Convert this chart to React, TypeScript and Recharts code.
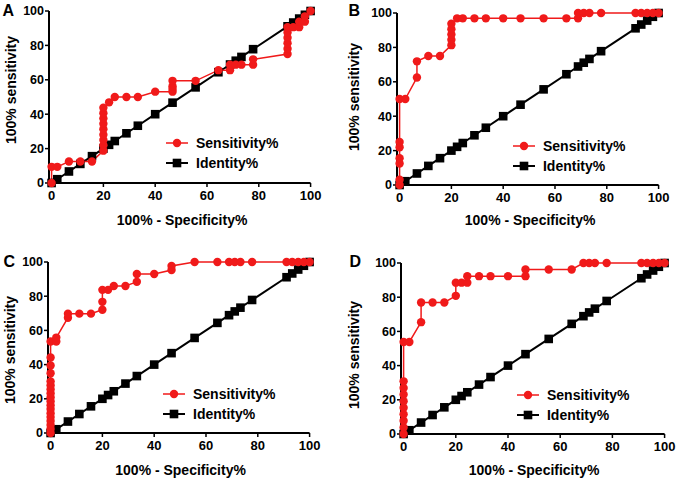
import React from 'react';
import { LineChart, Line, XAxis, YAxis, Legend } from 'recharts';

const FONT = "Arial, 'Liberation Sans', Helvetica, sans-serif";
const RED = '#f01a1a';
const BLACK = '#000000';

const xTicks = [0, 20, 40, 60, 80, 100];
const yTicks = [0, 20, 40, 60, 80, 100];

// 100% - specificity values shared by all panels (identity line: y = x at each)
const identityPct = [0, 2.2, 6.7, 11.1, 15.6, 20, 22.2, 24.4, 28.9, 33.3, 40, 46.7, 55.6, 64.4, 68.9, 71.1, 73.3, 77.8, 91.1, 93.3, 95.6, 97.8, 100];

// [100% - specificity, sensitivity]
const rocA: [number, number][] = [
  [0, 0], [0, 9.4], [2.2, 9.4], [6.7, 12.5], [11.1, 12.5], [15.6, 12.5],
  [20, 18.8], [20, 21.9], [20, 25], [20, 28.1], [20, 31.3], [20, 34.4], [20, 37.5], [20, 40.6], [20, 43.8],
  [22.2, 46.9], [24.4, 50], [28.9, 50], [33.3, 50], [40, 53.1], [46.7, 53.1], [46.7, 54.7], [46.7, 56.3], [46.7, 59.4],
  [55.6, 59.4], [64.4, 65.6], [68.9, 65.6], [68.9, 68.8], [71.1, 68.8], [73.3, 68.8], [77.8, 68.8], [77.8, 71.9],
  [91.1, 75], [91.1, 78.1], [91.1, 81.3], [91.1, 84.4], [91.1, 87.5], [91.1, 90.6], [93.3, 90.6], [95.6, 90.6],
  [95.6, 93.8], [97.8, 93.8], [97.8, 96.9], [100, 100],
];

const rocB: [number, number][] = [
  [0, 0], [0, 3.1], [0, 12.5], [0, 15.6], [0, 21.9], [0, 25], [0, 50], [2.2, 50], [6.7, 62.5], [6.7, 71.9],
  [11.1, 75], [15.6, 75], [20, 81.3], [20, 84.4], [20, 87.5], [20, 90.6], [20, 93.8], [22.2, 96.9], [24.4, 96.9],
  [28.9, 96.9], [33.3, 96.9], [40, 96.9], [46.7, 96.9], [55.6, 96.9], [64.4, 96.9], [68.9, 96.9], [68.9, 100],
  [71.1, 100], [73.3, 100], [77.8, 100], [91.1, 100], [93.3, 100], [95.6, 100], [97.8, 100], [100, 100],
];

const rocC: [number, number][] = [
  [0, 0], [0, 2.3], [0, 4.7], [0, 7.0], [0, 9.3], [0, 11.6], [0, 14.0], [0, 16.3], [0, 18.6], [0, 20.9], [0, 23.3],
  [0, 25.6], [0, 27.9], [0, 30.2], [0, 34.9], [0, 39.5], [0, 44.2], [0, 53.5], [2.2, 53.5], [2.2, 55.8],
  [6.7, 67.4], [6.7, 69.8], [11.1, 69.8], [15.6, 69.8], [20, 72.1], [20, 76.7], [20, 83.7], [22.2, 83.7],
  [24.4, 86], [28.9, 86], [33.3, 88.4], [33.3, 93], [40, 93], [46.7, 95.3], [46.7, 97.7], [55.6, 100], [64.4, 100],
  [68.9, 100], [71.1, 100], [73.3, 100], [77.8, 100], [91.1, 100], [93.3, 100], [95.6, 100], [97.8, 100], [100, 100],
];

const rocD: [number, number][] = [
  [0, 0], [0, 3.8], [0, 7.7], [0, 11.5], [0, 15.4], [0, 19.2], [0, 23.1], [0, 26.9], [0, 30.8], [0, 53.8],
  [2.2, 53.8], [6.7, 65.4], [6.7, 76.9], [11.1, 76.9], [15.6, 76.9], [20, 80.8], [20, 88.5], [22.2, 88.5],
  [24.4, 88.5], [24.4, 92.3], [28.9, 92.3], [33.3, 92.3], [40, 92.3], [46.7, 92.3], [46.7, 96.2], [55.6, 96.2],
  [64.4, 96.2], [68.9, 100], [71.1, 100], [73.3, 100], [77.8, 100], [91.1, 100], [93.3, 100], [95.6, 100], [97.8, 100], [100, 100],
];

const panelLetters = ['A', 'B', 'C', 'D'];
const seriesNames = ['Sensitivity%', 'Identity%'];
const xTitle = '100% - Specificity%';
const yTitle = '100% sensitivity';

const Y_W = 49;
const LEFT = 24;
const TOP = 11;
const RIGHT = 15;
const X_H = 57;

type PanelCfg = {
  roc: [number, number][];
  ox: number; x100: number; y100: number; y0: number;
  letter: { x: number; y: number };
  yLab: { x: number; y: number };
  xLab: { x: number; y: number };
  leg: { x: number; y: number };
};

const panels: PanelCfg[] = [
  { roc: rocA, ox: 49.4, x100: 311, y100: 11, y0: 183, letter: { x: 3, y: 16 }, yLab: { x: 11, y: 90 }, xLab: { x: 182.5, y: 225 }, leg: { x: 166, y: 143 } },
  { roc: rocB, ox: 397.4, x100: 659, y100: 13, y0: 185, letter: { x: 349, y: 16 }, yLab: { x: 354, y: 97 }, xLab: { x: 530.5, y: 225 }, leg: { x: 513, y: 146 } },
  { roc: rocC, ox: 48.4, x100: 310, y100: 262, y0: 433, letter: { x: 4, y: 267 }, yLab: { x: 10, y: 350 }, xLab: { x: 181, y: 475 }, leg: { x: 163, y: 394 } },
  { roc: rocD, ox: 401.4, x100: 665, y100: 263, y0: 434, letter: { x: 350, y: 267 }, yLab: { x: 354, y: 355 }, xLab: { x: 534.5, y: 475 }, leg: { x: 517, y: 395 } },
];

const SquareDot = (props: any) => {
  const { cx, cy, index } = props;
  if (cx == null || cy == null) return <g key={index} />;
  return <rect key={index} x={cx - 4.3} y={cy - 4.3} width={8.6} height={8.6} fill={BLACK} />;
};

const LegendContent = (props: any) => {
  const items = [...(props.payload || [])].sort(
    (a: any, b: any) => seriesNames.indexOf(a.value) - seriesNames.indexOf(b.value)
  );
  return (
    <div style={{ fontFamily: FONT, fontWeight: 700, fontSize: 14, color: BLACK }}>
      {items.map((it: any) => {
        const isSens = it.value === seriesNames[0];
        return (
          <div key={it.value} style={{ display: 'flex', alignItems: 'center', height: 20, whiteSpace: 'nowrap' }}>
            <svg width={22} height={12} style={{ display: 'block' }}>
              <line x1={0} y1={6} x2={22} y2={6} stroke={isSens ? RED : BLACK} strokeWidth={isSens ? 1.5 : 2} />
              {isSens ? (
                <circle cx={11} cy={6} r={4.2} fill={RED} />
              ) : (
                <rect x={6.7} y={1.7} width={8.6} height={8.6} fill={BLACK} />
              )}
            </svg>
            <span style={{ marginLeft: 8 }}>{it.value}</span>
          </div>
        );
      })}
    </div>
  );
};

function Panel({ p, letter }: { p: PanelCfg; letter: string }) {
  const L = p.ox - Y_W - LEFT;
  const T = p.y100 - TOP;
  const W = p.x100 - L + RIGHT;
  const H = p.y0 - T + X_H;
  const sens = p.roc.map(([x, y]) => ({ x, y }));
  const ident = identityPct.map((v) => ({ x: v, y: v }));
  const tickStyle = { fill: BLACK, fontWeight: 700, fontFamily: FONT };
  return (
    <div style={{ position: 'absolute', left: L, top: T }}>
      <LineChart width={W} height={H} margin={{ top: TOP, right: RIGHT, bottom: 0, left: LEFT }}>
        <XAxis
          type="number"
          dataKey="x"
          domain={[-1, 100]}
          ticks={xTicks}
          height={X_H}
          axisLine={{ stroke: BLACK, strokeWidth: 2 }}
          tickLine={{ stroke: BLACK, strokeWidth: 1.5 }}
          tickSize={4}
          tickMargin={4}
          tick={{ ...tickStyle, fontSize: 13 }}
          interval={0}
        />
        <YAxis
          type="number"
          domain={[0, 100]}
          ticks={yTicks}
          width={Y_W}
          axisLine={{ stroke: BLACK, strokeWidth: 2 }}
          tickLine={{ stroke: BLACK, strokeWidth: 1.5 }}
          tickSize={4}
          tickMargin={1}
          tick={{ ...tickStyle, fontSize: 12.5 }}
          interval={0}
        />
        <Legend
          layout="horizontal"
          verticalAlign="middle"
          align="center"
          content={LegendContent}
          wrapperStyle={{ left: p.leg.x - L, top: p.leg.y - 10 - T, width: 'auto', height: 'auto' }}
        />
        <Line
          data={ident}
          dataKey="y"
          name={seriesNames[1]}
          type="linear"
          stroke={BLACK}
          strokeWidth={2}
          dot={SquareDot}
          activeDot={false}
          isAnimationActive={false}
        />
        <Line
          data={sens}
          dataKey="y"
          name={seriesNames[0]}
          type="linear"
          stroke={RED}
          strokeWidth={1.5}
          dot={{ r: 4.2, fill: RED, stroke: RED, strokeWidth: 0 }}
          activeDot={false}
          isAnimationActive={false}
        />
        <text x={p.letter.x - L} y={p.letter.y - T} fontFamily={FONT} fontWeight={700} fontSize={16} fill={BLACK}>
          {letter}
        </text>
        <text
          x={p.yLab.x - L}
          y={p.yLab.y - T}
          dy={5}
          transform={`rotate(-90, ${p.yLab.x - L}, ${p.yLab.y - T})`}
          textAnchor="middle"
          fontFamily={FONT}
          fontWeight={700}
          fontSize={14}
          fill={BLACK}
        >
          {yTitle}
        </text>
        <text x={p.xLab.x - L} y={p.xLab.y - T} textAnchor="middle" fontFamily={FONT} fontWeight={700} fontSize={14} fill={BLACK}>
          {xTitle}
        </text>
      </LineChart>
    </div>
  );
}

export default function App() {
  return (
    <div style={{ position: 'absolute', left: 0, top: 0, width: 677, height: 483, overflow: 'hidden', background: '#fff' }}>
      {panels.map((p, i) => (
        <Panel key={panelLetters[i]} p={p} letter={panelLetters[i]} />
      ))}
    </div>
  );
}
